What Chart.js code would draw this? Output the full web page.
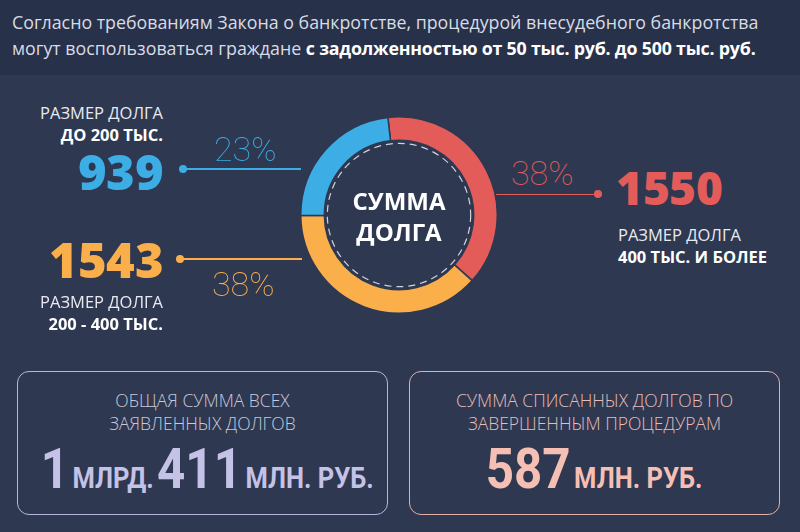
<!DOCTYPE html>
<html lang="ru">
<head>
  <meta charset="UTF-8" />
  <title>Сумма долга</title>
  <script src="https://cdn.jsdelivr.net/npm/chart.js"></script>
  <style>
    @font-face {
      font-family: 'BigNum';
      src: local('Open Sans ExtraBold'), local('OpenSans-ExtraBold'), local('Open Sans Extrabold'), local('Open Sans');
      font-weight: 300 800;
      ascent-override: 78%;
      descent-override: 8%;
      line-gap-override: 0%;
    }
    html, body { margin: 0; padding: 0; }
    body {
      width: 800px; height: 532px; overflow: hidden; position: relative;
      background: #2e3851; font-family: 'Open Sans', 'Noto Sans', sans-serif; color: #e6e8ee;
    }
    .abs { position: absolute; white-space: nowrap; }
    .head {
      left: 0; top: 0; width: 800px; height: 75px; background: #28314a;
    }
    .head p {
      margin: 0; position: absolute; left: 12px; top: 9px; font-size: 17.8px; line-height: 26px;
      color: #d9dce4;
    }
    .head b { color: #fff; font-weight: 700; letter-spacing: -0.2px; }
    .cap { font-size: 16.5px; line-height: 22px; color: #e9eaf0; }
    .cap b { display: block; color: #fff; font-weight: 700; }
    .right { text-align: right; }
    .big { font-family: 'BigNum', 'Open Sans', sans-serif; font-weight: 800; font-size: 49px; line-height: 40px; letter-spacing: -0.5px; }
    .pct { font-family: Roboto, sans-serif; font-weight: 100; font-size: 34px; line-height: 34px; }
    .line { height: 1.5px; }
    .dot { width: 8px; height: 8px; border-radius: 50%; }
    .box {
      border: 1.5px solid; border-radius: 12px; box-sizing: border-box; text-align: center;
    }
    .box .t { font-size: 17.5px; line-height: 23px; font-weight: 300; margin-top: 17px; }
    .box .n { margin-top: 6px; font-family: Roboto, sans-serif; font-weight: 700; line-height: 56px; }
    .box .n .sq { display: inline-block; transform: scaleX(0.88); }
    .box .n .b { font-size: 56px; }
    .box .n .s { font-size: 29px; }
    #wrap { position: absolute; left: 300px; top: 116px; width: 198px; height: 198px; }
    .mid {
      left: 300px; top: 185px; width: 198px; text-align: center; color: #fff;
      font-weight: 700; font-size: 24px; line-height: 31px;
    }
  </style>
</head>
<body>
  <div class="abs head">
    <p>Согласно требованиям Закона о банкротстве, процедурой внесудебного банкротства<br>
      могут воспользоваться граждане <b>с задолженностью от 50 тыс. руб. до 500 тыс. руб.</b></p>
  </div>

  <div id="wrap"><canvas id="debtChart"></canvas></div>
  <div class="abs mid">СУММА<br>ДОЛГА</div>

  <!-- left top: up to 200k -->
  <div class="abs cap right" style="right:637px; top:102px;">РАЗМЕР ДОЛГА<b>ДО 200 ТЫС.</b></div>
  <div class="abs big right" id="v0" style="right:637px; top:153px;"></div>
  <div class="abs pct" id="p0" style="left:214px; top:132px;"></div>
  <div class="abs dot" id="d0" style="left:179px; top:165px;"></div>
  <div class="abs line" id="l0" style="left:183px; top:168px; width:118px;"></div>

  <!-- left bottom: 200-400k -->
  <div class="abs big right" id="v1" style="right:637px; top:241px;"></div>
  <div class="abs cap right" style="right:637px; top:291px;">РАЗМЕР ДОЛГА<b>200 - 400 ТЫС.</b></div>
  <div class="abs pct" id="p1" style="left:212px; top:267px;"></div>
  <div class="abs dot" id="d1" style="left:176px; top:255px;"></div>
  <div class="abs line" id="l1" style="left:180px; top:258px; width:122px;"></div>

  <!-- right: 400k and more -->
  <div class="abs big" id="v2" style="left:616px; top:169px; font-size:46px;"></div>
  <div class="abs cap" style="left:618px; top:224px;">РАЗМЕР ДОЛГА<b>400 ТЫС. И БОЛЕЕ</b></div>
  <div class="abs pct" id="p2" style="left:511px; top:156px;"></div>
  <div class="abs dot" id="d2" style="left:594px; top:190px;"></div>
  <div class="abs line" id="l2" style="left:496px; top:193.5px; width:100px;"></div>

  <div class="abs box" style="left:17px; top:371px; width:371px; height:144px; border-color:#b7b6dc; color:#c9c9dc;">
    <div class="t">ОБЩАЯ СУММА ВСЕХ<br>ЗАЯВЛЕННЫХ ДОЛГОВ</div>
    <div class="n" style="color:#c4c2e6;"><span class="sq"><span class="b" id="tot1"></span> <span class="s">МЛРД.</span> <span class="b" id="tot2"></span> <span class="s">МЛН. РУБ.</span></span></div>
  </div>
  <div class="abs box" style="left:409px; top:371px; width:371px; height:144px; border-color:#e2b0ab; color:#e8bdb7;">
    <div class="t">СУММА СПИСАННЫХ ДОЛГОВ ПО<br>ЗАВЕРШЕННЫМ ПРОЦЕДУРАМ</div>
    <div class="n" style="color:#f6bfb4;"><span class="sq"><span class="b" id="wo"></span> <span class="s">МЛН. РУБ.</span></span></div>
  </div>

  <script>
    // debt size groups, clockwise from the top
    const categories = ['400 тыс. и более', '200 - 400 тыс.', 'до 200 тыс.'];
    const debtors = [1550, 1543, 939];
    const percents = ['38%', '38%', '23%'];
    const colors = ['#e35c5a', '#fbaf4b', '#3cade5'];
    const totalDeclared = ['1', '411']; // млрд., млн. руб.
    const writtenOff = '587'; // млн. руб.

    // labels around the ring: index into the arrays above
    const slots = [2, 1, 0];
    slots.forEach((k, i) => {
      document.getElementById('v' + i).textContent = debtors[k];
      document.getElementById('v' + i).style.color = colors[k];
      document.getElementById('p' + i).textContent = percents[k];
      document.getElementById('p' + i).style.color = colors[k];
      document.getElementById('d' + i).style.background = colors[k];
      document.getElementById('l' + i).style.background = colors[k];
    });
    document.getElementById('tot1').textContent = totalDeclared[0];
    document.getElementById('tot2').textContent = totalDeclared[1];
    document.getElementById('wo').textContent = writtenOff;

    // dashed circle just inside the ring
    const dashedRing = {
      id: 'dashedRing',
      afterDatasetsDraw(chart) {
        const arc = chart.getDatasetMeta(0).data[0];
        if (!arc) return;
        const ctx = chart.ctx;
        ctx.save();
        ctx.beginPath();
        ctx.setLineDash([7, 5]);
        ctx.lineWidth = 1.2;
        ctx.strokeStyle = 'rgba(235,238,245,0.85)';
        ctx.arc(arc.x, arc.y, arc.innerRadius - 3, 0, Math.PI * 2);
        ctx.stroke();
        ctx.restore();
      }
    };

    new Chart(document.getElementById('debtChart'), {
      type: 'doughnut',
      data: {
        labels: categories,
        datasets: [{
          data: debtors,
          backgroundColor: colors,
          borderColor: '#2e3851',
          borderWidth: 1.5
        }]
      },
      options: {
        responsive: true,
        maintainAspectRatio: false,
        animation: false,
        rotation: -6.5,
        cutout: '76%',
        plugins: { legend: { display: false }, tooltip: { enabled: false } }
      },
      plugins: [dashedRing]
    });
  </script>
</body>
</html>
